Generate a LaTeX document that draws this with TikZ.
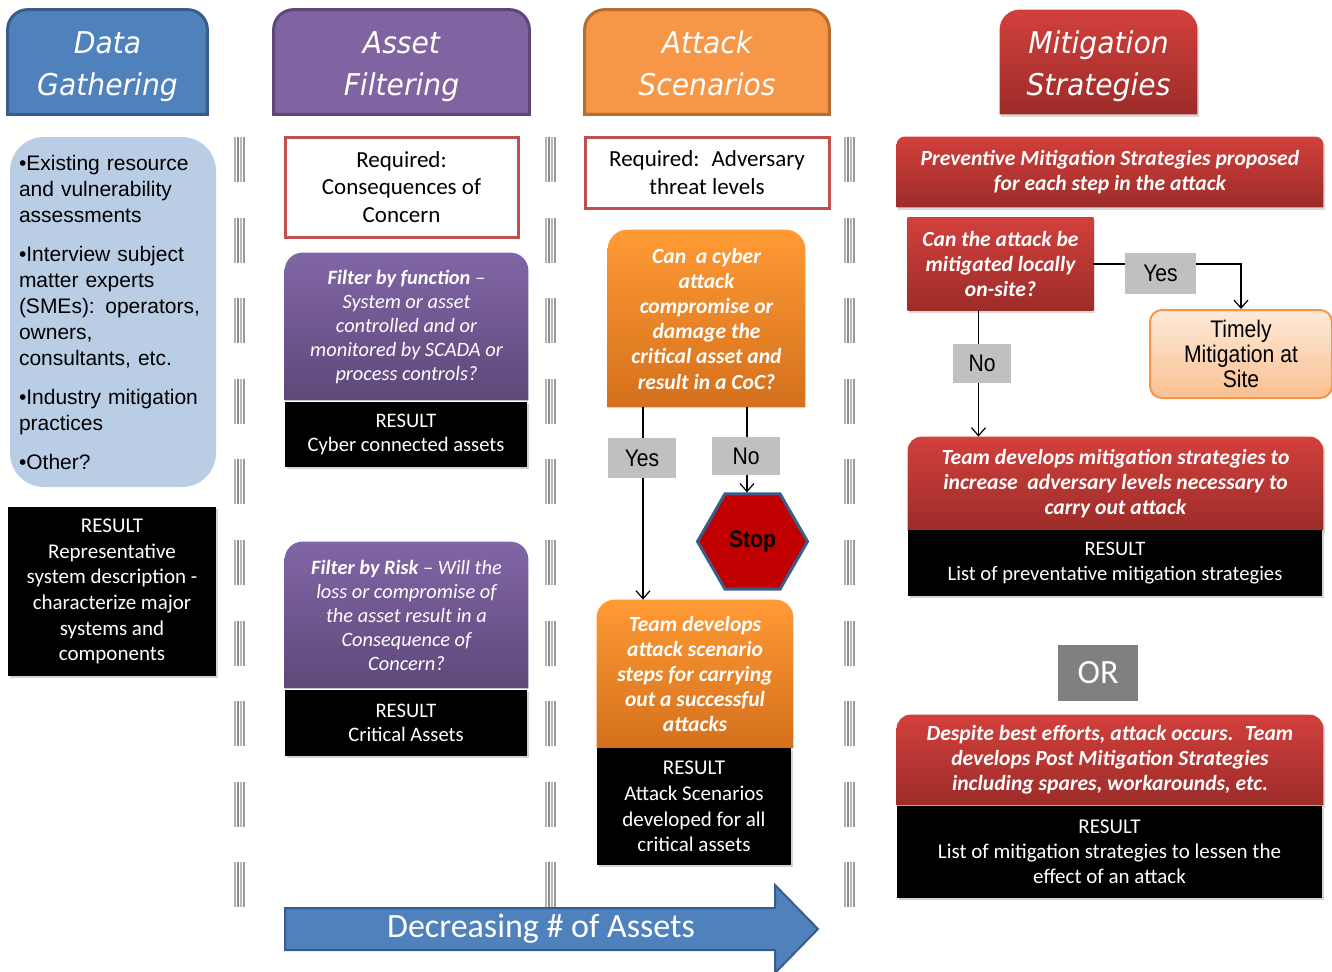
\documentclass[tikz,border=0pt]{standalone}
\usepackage{fontspec}
\setmainfont{Carlito}
\newfontfamily\headfont[FakeStretch=0.94]{DejaVu Sans Oblique}
\newfontfamily\bulletfont{Liberation Sans}
\newfontfamily\narrowfont[FakeStretch=0.88]{Liberation Sans}
\usetikzlibrary{shapes.geometric,backgrounds,shadows,arrows.meta,positioning}

\definecolor{dgblue}{HTML}{4F81BD}
\definecolor{dgbluedark}{HTML}{385D8A}
\definecolor{afpurple}{HTML}{8064A2}
\definecolor{afpurpledark}{HTML}{5C4776}
\definecolor{purpletop}{HTML}{8166A6}
\definecolor{purplebot}{HTML}{5E4879}
\definecolor{asorange}{HTML}{F79646}
\definecolor{asorangedark}{HTML}{B66D31}
\definecolor{orangetop}{HTML}{FF9A35}
\definecolor{orangebot}{HTML}{D4701C}
\definecolor{redtop}{HTML}{D2403C}
\definecolor{redbot}{HTML}{9C2C29}
\definecolor{reqred}{HTML}{C0504D}
\definecolor{gatherblue}{HTML}{B9CDE5}
\definecolor{silver}{HTML}{C0C0C0}
\definecolor{stopred}{HTML}{C00000}
\definecolor{timelytop}{HTML}{FDEADA}
\definecolor{timelybot}{HTML}{FAC090}
\definecolor{orgray}{HTML}{808080}

% fill a node's box with only its top corners rounded
\newcommand{\roundtop}[3]{\path[#3] (#1.south west) [rounded corners=#2] -- (#1.north west) -- (#1.north east) [sharp corners] -- (#1.south east) -- cycle;}
\newcommand{\headstrut}{\rule{0pt}{16pt}}
\newcommand{\footstrut}{\rule[-4pt]{0pt}{4pt}}

\begin{document}
\begin{tikzpicture}[x=0.5pt,y=-0.5pt,
  head/.style={text=white,font=\headfont\fontsize{15}{21}\selectfont,align=center,inner sep=0pt},
  req/.style={draw=reqred,line width=1.5pt,fill=white,font=\fontsize{11.5}{13.75}\selectfont,align=center,inner sep=0pt},
  result/.style={fill=black,text=white,font=\fontsize{10.3}{12.2}\selectfont,align=center,inner sep=0pt,
    drop shadow={opacity=0.35,shadow xshift=0.8pt,shadow yshift=-1.2pt}},
  filter/.style={text=white,font=\itshape\fontsize{10.2}{12}\selectfont,align=center,inner sep=0pt},
  ask/.style={text=white,font=\bfseries\itshape\fontsize{10.8}{12.6}\selectfont,align=center,inner sep=0pt},
  choice/.style={fill=silver,font=\narrowfont\fontsize{12}{14}\selectfont,inner sep=0pt},
  flow/.style={-{Straight Barb[length=4pt,width=7pt]},line width=0.6pt},
  redfill/.style={top color=redtop,bottom color=redbot,drop shadow={opacity=0.3,shadow xshift=0.8pt,shadow yshift=-1.2pt}},
  purplefill/.style={top color=purpletop,bottom color=purplebot},
  orangefill/.style={top color=orangetop,bottom color=orangebot}]
\useasboundingbox (0,0) rectangle (1332,971);

% column separators
\foreach \sx in {240,551,850}
  \foreach \dx/\c in {-5/gray!60,-2/gray!90,1/gray!55,4/gray!80}
    \draw[\c,line width=0.9pt,dash pattern=on 22.5pt off 17.8pt] (\sx+\dx,137) -- (\sx+\dx,908);

% headers
\node[head,minimum width=99.5pt,minimum height=52pt] (hdata) at (107.5,62) {\headstrut Data\\Gathering\footstrut};
\node[head,minimum width=127.5pt,minimum height=52pt] (hasset) at (401.5,62) {\headstrut Asset\\Filtering\footstrut};
\node[head,minimum width=122pt,minimum height=52pt] (hattack) at (707,62) {\headstrut Attack\\Scenarios\footstrut};
\node[head,minimum width=98.5pt,minimum height=52pt] (hmitig) at (1098.5,62) {\headstrut Mitigation\\Strategies\footstrut};

% data gathering
\node[fill=gatherblue,rounded corners=17pt,text width=94pt,inner xsep=4.5pt,inner ysep=0pt,
  minimum height=175pt,align=left,font=\bulletfont\fontsize{10.5}{13}\selectfont] (gather) at (113,312)
  {•Existing resource\\and vulnerability\\assessments\\[6.5pt]•Interview subject\\matter experts\\(SMEs): operators,\\owners,\\consultants, etc.\\[6.5pt]•Industry mitigation\\practices\\[6.5pt]•Other?};
\node[result,minimum width=104pt,minimum height=84.5pt,font=\fontsize{10.5}{12.8}\selectfont] (res1) at (112,591.5)
  {RESULT\\Representative\\system description -\\characterize major\\systems and\\components};

% asset filtering
\node[req,minimum width=116.5pt,minimum height=50pt] (req1) at (401.5,187) {Required:\\Consequences of\\Concern};
\node[filter,minimum width=121.5pt,minimum height=73.5pt] (filt1) at (406.5,326.5)
  {\textbf{Filter by function} --\\System or asset\\controlled and or\\monitored by SCADA or\\process controls?};
\node[result,minimum width=121pt,minimum height=32.5pt] (res2) at (406,434.5) {RESULT\\Cyber connected assets};
\node[filter,minimum width=121.5pt,minimum height=73pt] (filt2) at (406.5,615)
  {\textbf{Filter by Risk} -- Will the\\loss or compromise of\\the asset result in a\\Consequence of\\Concern?};
\node[result,minimum width=121pt,minimum height=33pt] (res3) at (406,723) {RESULT\\Critical Assets};

% attack scenarios
\node[req,minimum width=122pt,minimum height=35.5pt] (req2) at (707,172.5) {Required:~ Adversary\\threat levels};
\node[ask,minimum width=98.5pt,minimum height=88.5pt] (q1) at (706.5,318.5)
  {Can~ a cyber\\attack\\compromise or\\damage the\\critical asset and\\result in a CoC?};
\node[regular polygon,regular polygon sides=6,minimum size=55pt,inner sep=0pt,fill=stopred,draw=dgbluedark,
  line width=1.5pt,font=\narrowfont\bfseries\fontsize{12}{14}\selectfont] (stop) at (752.5,541.5) {Stop};
\node[ask,minimum width=98pt,minimum height=74pt] (team1) at (695,674)
  {Team develops\\attack scenario\\steps for carrying\\out a successful\\attacks};
\node[result,minimum width=97pt,minimum height=58.5pt,font=\fontsize{10.5}{12.8}\selectfont] (res4) at (694,806.5)
  {RESULT\\Attack Scenarios\\developed for all\\critical assets};

% mitigation strategies
\node[ask,minimum width=213pt,minimum height=35pt,font=\bfseries\itshape\fontsize{10.8}{12.5}\selectfont] (prev) at (1110,172)
  {Preventive Mitigation Strategies proposed\\for each step in the attack};
\node[ask,minimum width=92.5pt,minimum height=46pt] (q2) at (1000.5,264) {Can the attack be\\mitigated locally\\on-site?};
\node[rounded corners=6pt,top color=timelytop,bottom color=timelybot,draw=asorange,line width=1pt,
  minimum width=91pt,minimum height=44pt,inner sep=0pt,align=center,font=\narrowfont\fontsize{12}{12.5}\selectfont]
  (timely) at (1241,354) {Timely\\Mitigation at\\Site};
\node[ask,minimum width=207.5pt,minimum height=46.5pt] (team2) at (1115.5,483.5)
  {Team develops mitigation strategies to\\increase~ adversary levels necessary to\\carry out attack};
\node[result,minimum width=207pt,minimum height=33pt] (res5) at (1115,563) {RESULT\\List of preventative mitigation strategies};
\node[fill=orgray,text=white,minimum width=40pt,minimum height=28pt,inner sep=0pt,font=\fontsize{17}{20}\selectfont] (orbox) at (1098,673) {OR};
\node[ask,minimum width=213pt,minimum height=45pt] (desp) at (1110,760)
  {Despite best efforts, attack occurs.~ Team\\develops Post Mitigation Strategies\\including spares, workarounds, etc.};
\node[result,minimum width=212.5pt,minimum height=46pt,font=\fontsize{10.5}{12.4}\selectfont] (res6) at (1109.5,852)
  {RESULT\\List of mitigation strategies to lessen the\\effect of an attack};

% connectors
\draw[flow] ([xshift=-31.75pt]q1.south) coordinate (yes1top) -- (yes1top |- team1.north);
\draw[flow] ([xshift=20.25pt]q1.south) coordinate (no1top) -- (no1top |- stop.north);
\draw[flow] (q2.east) -| (timely.north);
\draw[flow] ([xshift=-11pt]q2.south) coordinate (no2top) -- (no2top |- team2.north);

% answer labels
\node[choice,minimum width=34pt,minimum height=20pt] (yes1) at (642,458) {Yes};
\node[choice,minimum width=34pt,minimum height=19pt] (no1) at (746,456) {No};
\node[choice,minimum width=35.5pt,minimum height=20.5pt] (yes2) at (1160.5,273.5) {Yes};
\node[choice,minimum width=29pt,minimum height=19.5pt] (no2) at (982,363.5) {No};

% decreasing arrow
\path[fill=dgblue,draw=dgbluedark,line width=1pt] (285,908) -- (775,908) -- (775,885) -- (818,929)
  -- (775,973) -- (775,950) -- (285,950) -- cycle;
\node[text=white,font=\fontsize{17}{20}\selectfont] (fewer) at (541,929) {Decreasing \# of Assets};

% box fills
\begin{scope}[on background layer]
\roundtop{hdata}{10pt}{fill=dgblue,draw=dgbluedark,line width=1.5pt}
\roundtop{hasset}{10pt}{fill=afpurple,draw=afpurpledark,line width=1.5pt}
\roundtop{hattack}{10pt}{fill=asorange,draw=asorangedark,line width=1.5pt}
\roundtop{hmitig}{10pt}{redfill}
\roundtop{filt1}{9pt}{purplefill}
\roundtop{filt2}{9pt}{purplefill}
\roundtop{q1}{10pt}{orangefill}
\roundtop{team1}{9pt}{orangefill}
\roundtop{prev}{4pt}{redfill}
\roundtop{q2}{0pt}{redfill}
\roundtop{team2}{7pt}{redfill}
\roundtop{desp}{7pt}{redfill}
\end{scope}
\end{tikzpicture}
\end{document}
